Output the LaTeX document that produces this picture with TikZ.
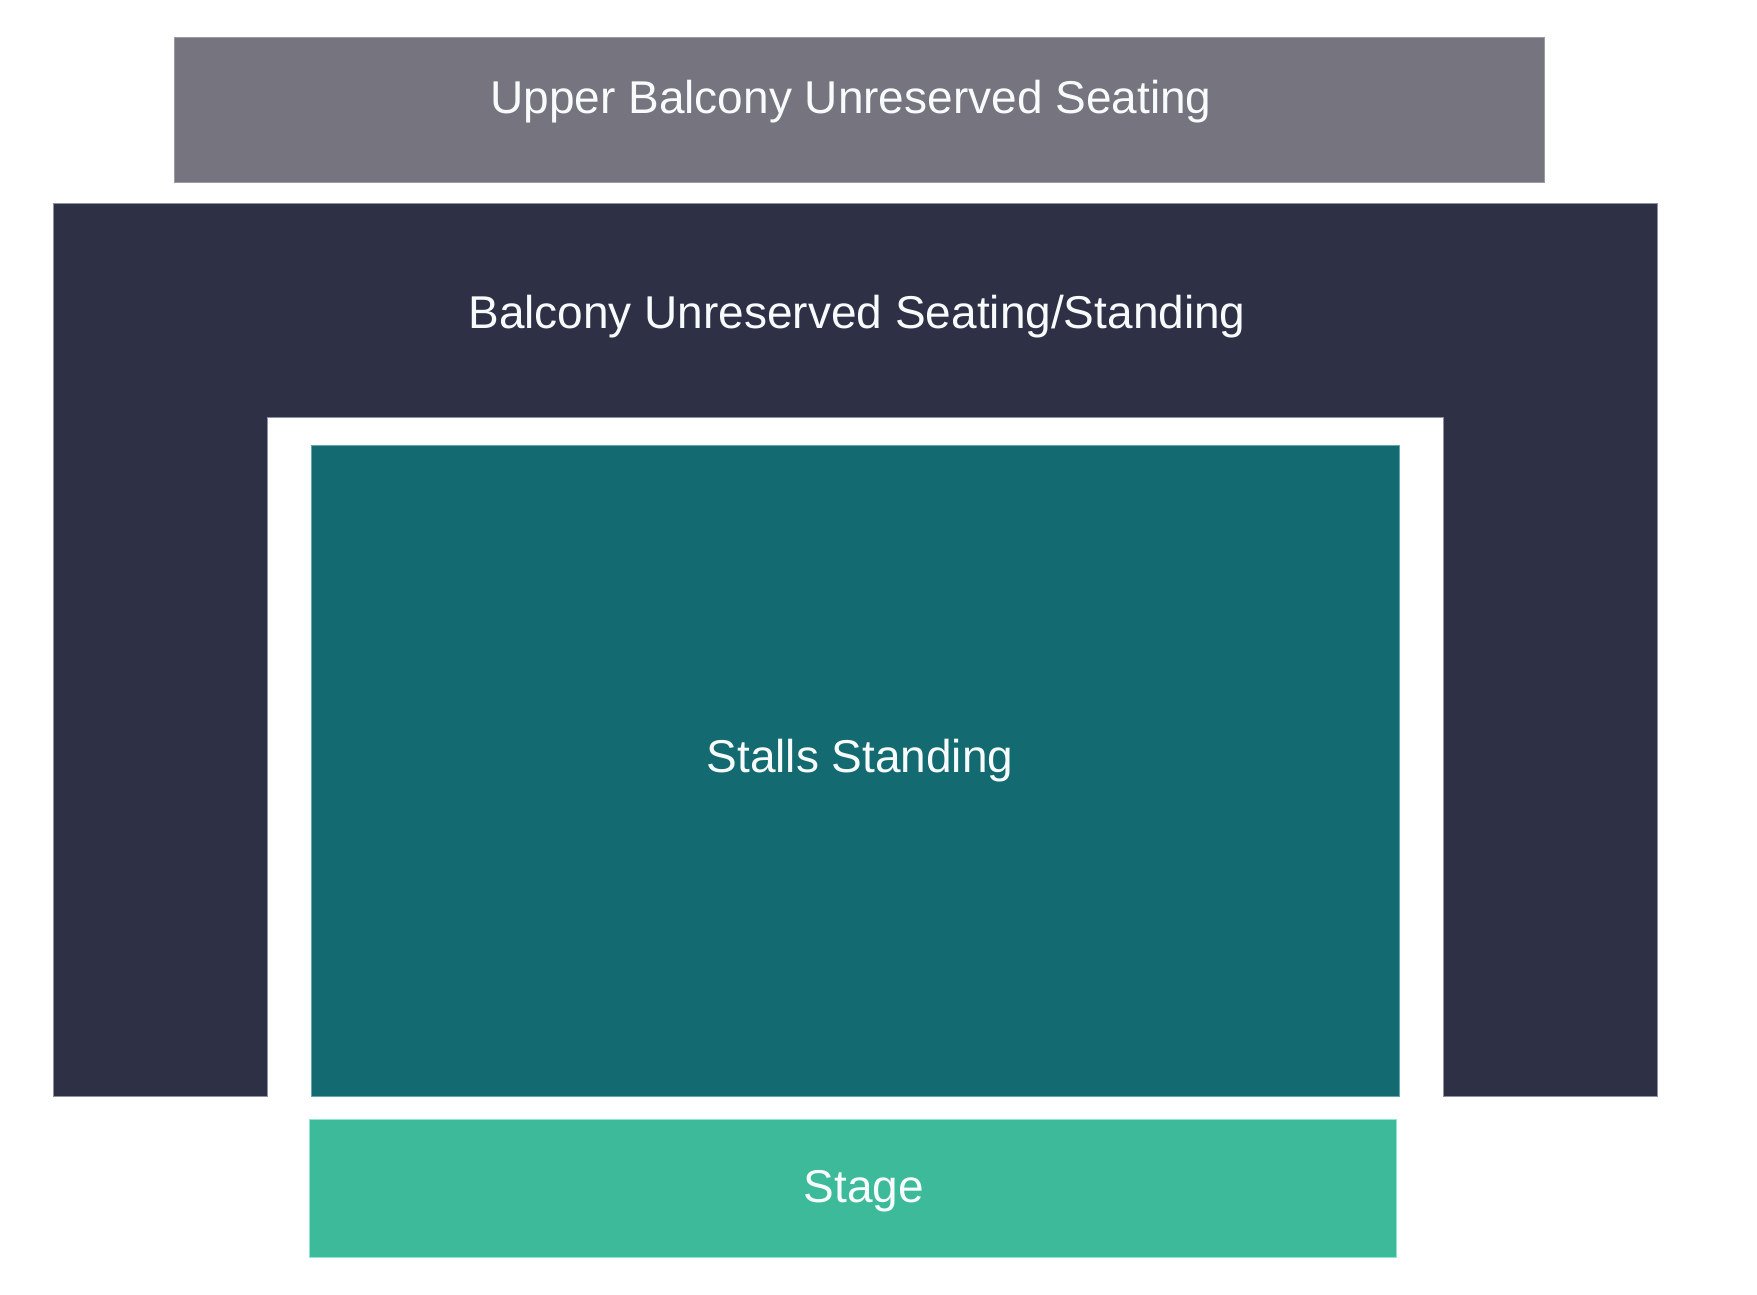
\documentclass[tikz,border=0pt]{standalone}
\usepackage{fontspec}
\setmainfont{Liberation Sans}
\definecolor{upperc}{HTML}{76757F}
\definecolor{upperb}{HTML}{9C9BA3}
\definecolor{balc}{HTML}{2E3046}
\definecolor{balb}{HTML}{8E90A6}
\definecolor{stallc}{HTML}{136A71}
\definecolor{stallb}{HTML}{5FA9AE}
\definecolor{stagec}{HTML}{3CBA9A}
\definecolor{stageb}{HTML}{8FE6D4}
\definecolor{labelc}{HTML}{F7FBFB}
\tikzset{
  zone/.style={line width=0.8pt},
  zlabel/.style={text=labelc, font=\fontsize{46}{50}\selectfont, anchor=base, inner sep=0pt}
}
\begin{document}
\begin{tikzpicture}[x=1pt,y=-1pt]
\useasboundingbox (0,0) rectangle (1757,1295);
\fill[white] (0,0) rectangle (1757,1295);
% Upper balcony
\path[zone, fill=upperc, draw=upperb] (174,37) rectangle (1544,182);
\node[zlabel] (upper) at (851,114) {Upper Balcony Unreserved Seating};
% Balcony (U shape)
\path[zone, fill=balc, draw=balb] (53,203) -- (1657,203) -- (1657,1096) -- (1443,1096) -- (1443,417) -- (267,417) -- (267,1096) -- (53,1096) -- cycle;
\node[zlabel] (balcony) at (857,328) {Balcony Unreserved Seating/Standing};
% Stalls
\path[zone, fill=stallc, draw=stallb] (311,445) rectangle (1399,1096);
\node[zlabel] (stalls) at (860,772) {Stalls Standing};
% Stage
\path[zone, fill=stagec, draw=stageb] (309,1119) rectangle (1396,1257);
\node[zlabel] (stage) at (864,1202) {Stage};
\end{tikzpicture}
\end{document}
